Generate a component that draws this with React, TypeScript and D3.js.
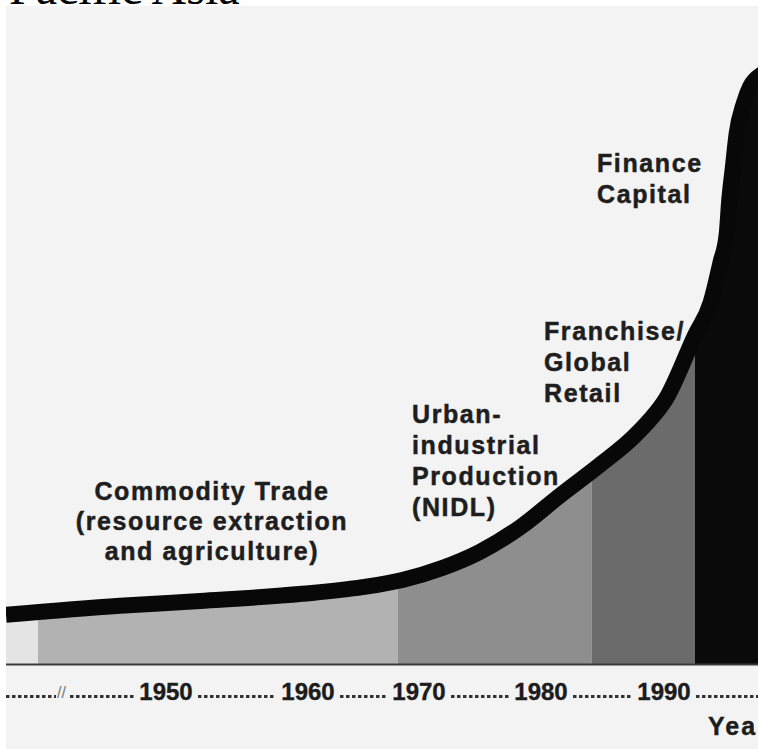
import React from 'react';
import * as d3 from 'd3';

const W = 758;
const H = 749;

// growth curve (schematic years, arbitrary value units)
const curveYears = [1900, 1935.6, 1952.4, 1959.6, 1964.9, 1968.5, 1971.9, 1975.0, 1978.3, 1981.5, 1984.8, 1987.5, 1988.9, 1990.1, 1992.5, 1993.8, 1994.6, 1995.1, 1995.3, 1995.6, 1995.9, 1996.5, 1997.0, 1998.1, 1999.4];
const curveValues = [8.2, 9.7, 10.5, 11.7, 12.8, 14.0, 16.0, 18.7, 22.8, 28.0, 33.2, 37.8, 40.8, 44.0, 54.7, 60.3, 67.0, 71.7, 77.2, 82.8, 88.3, 93.5, 96.2, 98.5, 100.3];

// eras shaded under the curve
const eraStarts = [1900, 1910, 1968.1, 1984.1, 1992.5];
const eraEnds = [1910, 1968.1, 1984.1, 1992.5, 2000];
const eraShades = ['#e4e4e4', '#b2b2b2', '#8e8e8e', '#6b6b6b', '#0a0a0a'];

const tickYears = [1950, 1960, 1970, 1980, 1990];

const eraLabels = [
  ['Commodity Trade', '(resource extraction', 'and agriculture)'],
  ['Urban-', 'industrial', 'Production', '(NIDL)'],
  ['Franchise/', 'Global', 'Retail'],
  ['Finance', 'Capital'],
];
const labelPos = [
  { x: 212, y: 500, anchor: 'middle', lh: 30 },
  { x: 412, y: 423, anchor: 'start', lh: 31 },
  { x: 544, y: 340, anchor: 'start', lh: 31 },
  { x: 597, y: 172, anchor: 'start', lh: 31 },
];

export default function App() {
  // the axis is schematic, so the year scale is piecewise
  const x = d3.scaleLinear()
    .domain([1900, 1950, 1960, 1970, 1980, 1990, 2000])
    .range([6, 166, 308, 419, 541, 664, 787]);
  const y = d3.scaleLinear().domain([0, 100]).range([664, 64]);

  const pts = curveYears.map((yr, i) => [yr, curveValues[i]] as [number, number]);

  const area = d3.area<[number, number]>()
    .x(d => x(d[0]))
    .y0(y(0))
    .y1(d => y(d[1]))
    .curve(d3.curveMonotoneX);
  const line = d3.line<[number, number]>()
    .x(d => x(d[0]))
    .y(d => y(d[1]))
    .curve(d3.curveMonotoneX);

  const labelW = 54;
  const axisY = 698;
  // dotted leaders between the year labels
  const leaders: [number, number][] = [];
  let prev = 70;
  tickYears.forEach(t => {
    leaders.push([prev, x(t) - labelW / 2 - 5]);
    prev = x(t) + labelW / 2 + 5;
  });
  leaders.push([prev, W]);

  const font = '"Liberation Sans", Arial, sans-serif';

  return (
    <svg width={W} height={H} style={{ position: 'absolute', left: 0, top: 0, background: '#fff' }}>
      <defs>
        <clipPath id="panel">
          <rect x={6} y={6} width={W - 6} height={H - 6} />
        </clipPath>
        <clipPath id="under">
          <path d={area(pts) || ''} />
        </clipPath>
      </defs>

      <text x={9} y={4} fontFamily='"Liberation Serif", "Times New Roman", serif' fontSize={48} fill="#000">
        Pacific Asia
      </text>

      <g clipPath="url(#panel)">
        <rect x={6} y={6} width={W - 6} height={H - 6} fill="#f3f3f3" />

        <g clipPath="url(#under)">
          {eraStarts.map((s, i) => (
            <rect key={i} x={x(s)} y={0} width={x(eraEnds[i]) - x(s) + 20 * (i === 4 ? 1 : 0)} height={y(0)} fill={eraShades[i]} />
          ))}
        </g>

        <path d={line(pts) || ''} fill="none" stroke="#080808" strokeWidth={16} />

        <line x1={6} x2={W} y1={y(0) + 0.5} y2={y(0) + 0.5} stroke="#3a3a3a" strokeWidth={2} />

        {leaders.map(([a, b], i) => (
          <line key={i} x1={a} x2={b} y1={axisY - 1.5} y2={axisY - 1.5} stroke="#333" strokeWidth={3} strokeDasharray="3.5 2.5" />
        ))}
        <line x1={6} x2={56} y1={axisY - 1.5} y2={axisY - 1.5} stroke="#333" strokeWidth={3} strokeDasharray="3.5 2.5" />
        <text x={57} y={698} fontFamily={font} fontSize={16} fill="#777">//</text>

        {tickYears.map(t => (
          <text key={t} x={x(t)} y={700} textAnchor="middle" fontFamily={font} fontWeight="bold" fontSize={24} fill="#1c1c1c" stroke="#1c1c1c" strokeWidth={0.4}>
            {t}
          </text>
        ))}

        <text x={708} y={735} fontFamily={font} fontWeight="bold" fontSize={25} letterSpacing={2} fill="#1c1c1c" stroke="#1c1c1c" strokeWidth={0.4}>Year</text>

        {eraLabels.map((lines, i) => (
          <text key={i} x={labelPos[i].x} y={labelPos[i].y} textAnchor={labelPos[i].anchor} fontFamily={font} fontWeight="bold" fontSize={25} letterSpacing={1.6} fill="#1e1e1e" stroke="#1e1e1e" strokeWidth={0.5}>
            {lines.map((s, j) => (
              <tspan key={j} x={labelPos[i].x} y={labelPos[i].y + j * labelPos[i].lh}>{s}</tspan>
            ))}
          </text>
        ))}
      </g>
    </svg>
  );
}
